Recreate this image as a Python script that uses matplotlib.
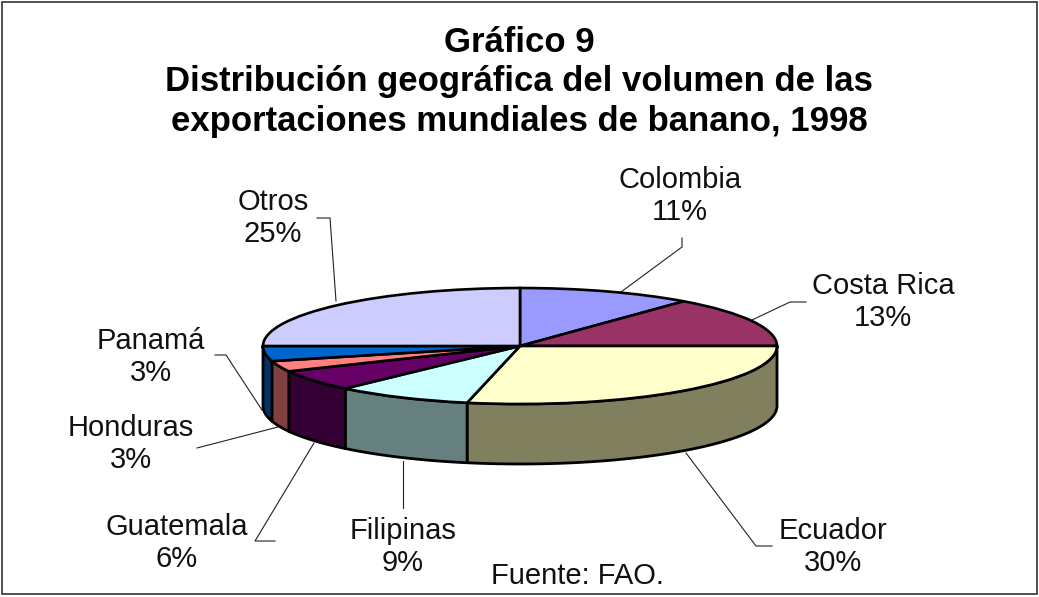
# Gráfico 9: pastel 3D de exportaciones de banano
from matplotlib import pyplot as plt
from matplotlib.patches import Rectangle
import numpy as np

plt.rcParams['font.family'] = ['Liberation Sans', 'DejaVu Sans']

# datos
paises = ['Colombia', 'Costa Rica', 'Ecuador', 'Filipinas', 'Guatemala', 'Honduras', 'Panamá', 'Otros']
etiquetas = ['11%', '13%', '30%', '9%', '6%', '3%', '3%', '25%']
volumen = [11.0, 14.0, 28.3, 8.6, 5.9, 3.0, 4.2, 25.0]  # tamaño medido de cada sector
color_tapa = ['#9999FF', '#993366', '#FFFFCC', '#CCFFFF', '#660066', '#FF8080', '#0066CC', '#CCCCFF']
color_lado = ['#4D4D80', '#4D1933', '#80805F', '#668080', '#330033', '#804040', '#003366', '#666680']

# posición de etiquetas y líneas guía (en píxeles)
pos_texto = [(680, 196), (883, 302), (833, 547), (403, 547), (177, 543), (131, 444), (151, 357), (273, 218)]
guias = [
    [(682, 238), (682, 247), (602, 306)],
    [(806, 302), (790, 302), (752, 320)],
    [(772, 546), (756, 546), (686, 453)],
    [(403, 508), (403, 461)],
    [(275, 541), (255, 541), (314, 443)],
    [(197, 448), (278, 427)],
    [(215, 355), (226, 355), (262, 410)],
    [(317, 218), (330, 218), (336, 301)],
]

W, H = 1039, 597
CX, CY, RX, RY, PROF = 520, 346, 257, 58, 60

fig = plt.figure(figsize=(W / 100, H / 100), dpi=100)

# capa en píxeles para marco, textos y guías
ax = fig.add_axes([0, 0, 1, 1])
ax.set_xlim(0, W)
ax.set_ylim(H, 0)
ax.axis('off')
ax.add_patch(Rectangle((2, 2), W - 4, H - 5, fill=False, ec='#333333', lw=1.2))

ax.text(519, 42, 'Gráfico 9', ha='center', va='center', fontsize=25, fontweight='bold')
ax.text(519, 81, 'Distribución geográfica del volumen de las', ha='center', va='center', fontsize=25, fontweight='bold')
ax.text(519, 121, 'exportaciones mundiales de banano, 1998', ha='center', va='center', fontsize=25, fontweight='bold')

for guia in guias:
    xs, ys = zip(*guia)
    ax.plot(xs, ys, color='#222222', lw=0.8)

for pais, pct, (x, y) in zip(paises, etiquetas, pos_texto):
    ax.text(x, y, pais + '\n' + pct, ha='center', va='center', fontsize=21, linespacing=1.2, color='#111111')

ax.text(577, 576, 'Fuente: FAO.', ha='center', va='center', fontsize=21, color='#111111')

# capa del pastel: radio 1 = elipse RX x RY
bajo = 1 + PROF / RY
ax2 = fig.add_axes([(CX - RX) / W, 1 - (CY + RY * bajo) / H, 2 * RX / W, RY * (1 + bajo) / H])
ax2.patch.set_alpha(0)

# paredes laterales, solo la mitad de delante
acum = np.cumsum([0] + volumen) / sum(volumen) * 360
for i in range(len(volumen)):
    t1 = 90 - acum[i]
    t2 = 90 - acum[i + 1]
    ini = min(t1, 0)
    fin = max(t2, -180)
    if ini <= fin:
        continue
    t = np.radians(np.linspace(ini, fin, 60))
    x = np.cos(t)
    y = np.sin(t)
    px = np.concatenate([x, x[::-1]])
    py = np.concatenate([y, y[::-1] - PROF / RY])
    ax2.fill(px, py, fc=color_lado[i], ec='black', lw=2.0, joinstyle='round')

# tapa superior
ax2.pie(volumen, colors=color_tapa, startangle=90, counterclock=False, radius=1,
        wedgeprops={'edgecolor': 'black', 'linewidth': 1.9})
ax2.set_aspect('auto')
ax2.set_xlim(-1, 1)
ax2.set_ylim(-bajo, 1)
ax2.axis('off')
for a in ax2.patches + ax2.lines:
    a.set_clip_on(False)

fig.savefig('out.png', dpi=100)
